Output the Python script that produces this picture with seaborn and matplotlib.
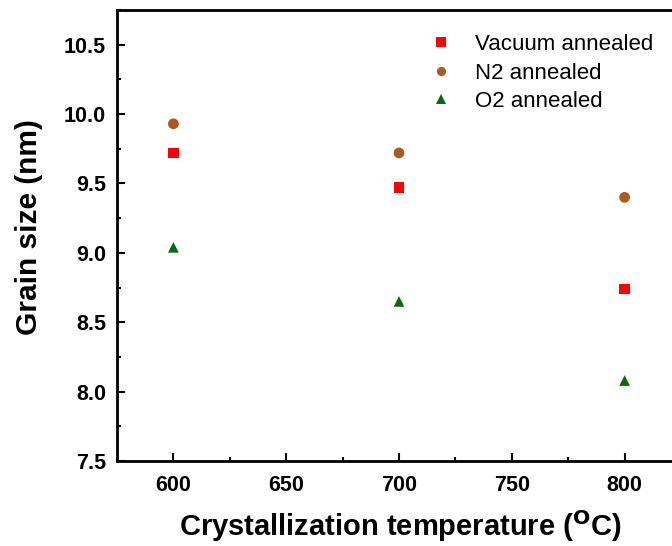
import matplotlib
matplotlib.use("Agg")
import matplotlib.pyplot as plt
import seaborn as sns
import pandas as pd
from matplotlib.ticker import MultipleLocator

temps = [600, 700, 800]
vacuum = [9.72, 9.47, 8.74]
n2 = [9.93, 9.72, 9.40]
o2 = [9.04, 8.65, 8.08]
labels = ["Vacuum annealed", "N2 annealed", "O2 annealed"]

df = pd.DataFrame({
    "T": temps * 3,
    "size": vacuum + n2 + o2,
    "group": [labels[0]] * 3 + [labels[1]] * 3 + [labels[2]] * 3,
})

sns.set_theme(style="white")
plt.rcParams["font.family"] = ["Liberation Sans", "DejaVu Sans"]
plt.rcParams["text.color"] = "black"
plt.rcParams["axes.labelcolor"] = "black"
plt.rcParams["xtick.color"] = "black"
plt.rcParams["ytick.color"] = "black"

fig = plt.figure(figsize=(6.72, 5.46), dpi=100)
ax = fig.add_axes([117 / 672, 1 - 461 / 546, (681 - 117) / 672, (461 - 10) / 546])

palette = {labels[0]: "#FF0000", labels[1]: "#B0581E", labels[2]: "#0A6A0A"}
markers = {labels[0]: "s", labels[1]: "o", labels[2]: "^"}
sns.scatterplot(data=df, x="T", y="size", hue="group", style="group",
                palette=palette, markers=markers, s=60, linewidth=0, ax=ax)

ax.set_xlim(575, 825)
ax.set_ylim(7.5, 10.75)
ax.xaxis.set_major_locator(MultipleLocator(50))
ax.xaxis.set_minor_locator(MultipleLocator(25))
ax.yaxis.set_major_locator(MultipleLocator(0.5))
ax.yaxis.set_minor_locator(MultipleLocator(0.25))
ax.yaxis.set_major_formatter(matplotlib.ticker.FormatStrFormatter("%.1f"))
ax.tick_params(which="both", direction="in", width=1.5, labelsize=15.5,
               bottom=True, left=True)
ax.tick_params(axis="x", pad=10)
ax.tick_params(axis="y", pad=8)
ax.tick_params(which="major", length=6)
ax.tick_params(which="minor", length=3)
for lab in ax.get_xticklabels() + ax.get_yticklabels():
    lab.set_fontweight("bold")
for sp in ax.spines.values():
    sp.set_linewidth(2)
    sp.set_color("black")

ax.set_xlabel(r"Crystallization temperature ($\mathbf{^{O}}$C)", fontsize=21, fontweight="bold")
ax.set_ylabel("Grain size (nm)", fontsize=21.5, fontweight="bold")
ax.xaxis.set_label_coords(0.502, -0.105)
ax.yaxis.set_label_coords(-0.131, 0.518)

leg = ax.legend(title=None, frameon=False, fontsize=16, loc="upper left",
                bbox_to_anchor=(0.507, 0.981), handletextpad=0.54, labelspacing=0.34,
                markerscale=0.85, borderaxespad=0.3)

fig.savefig("out.png", dpi=100)
